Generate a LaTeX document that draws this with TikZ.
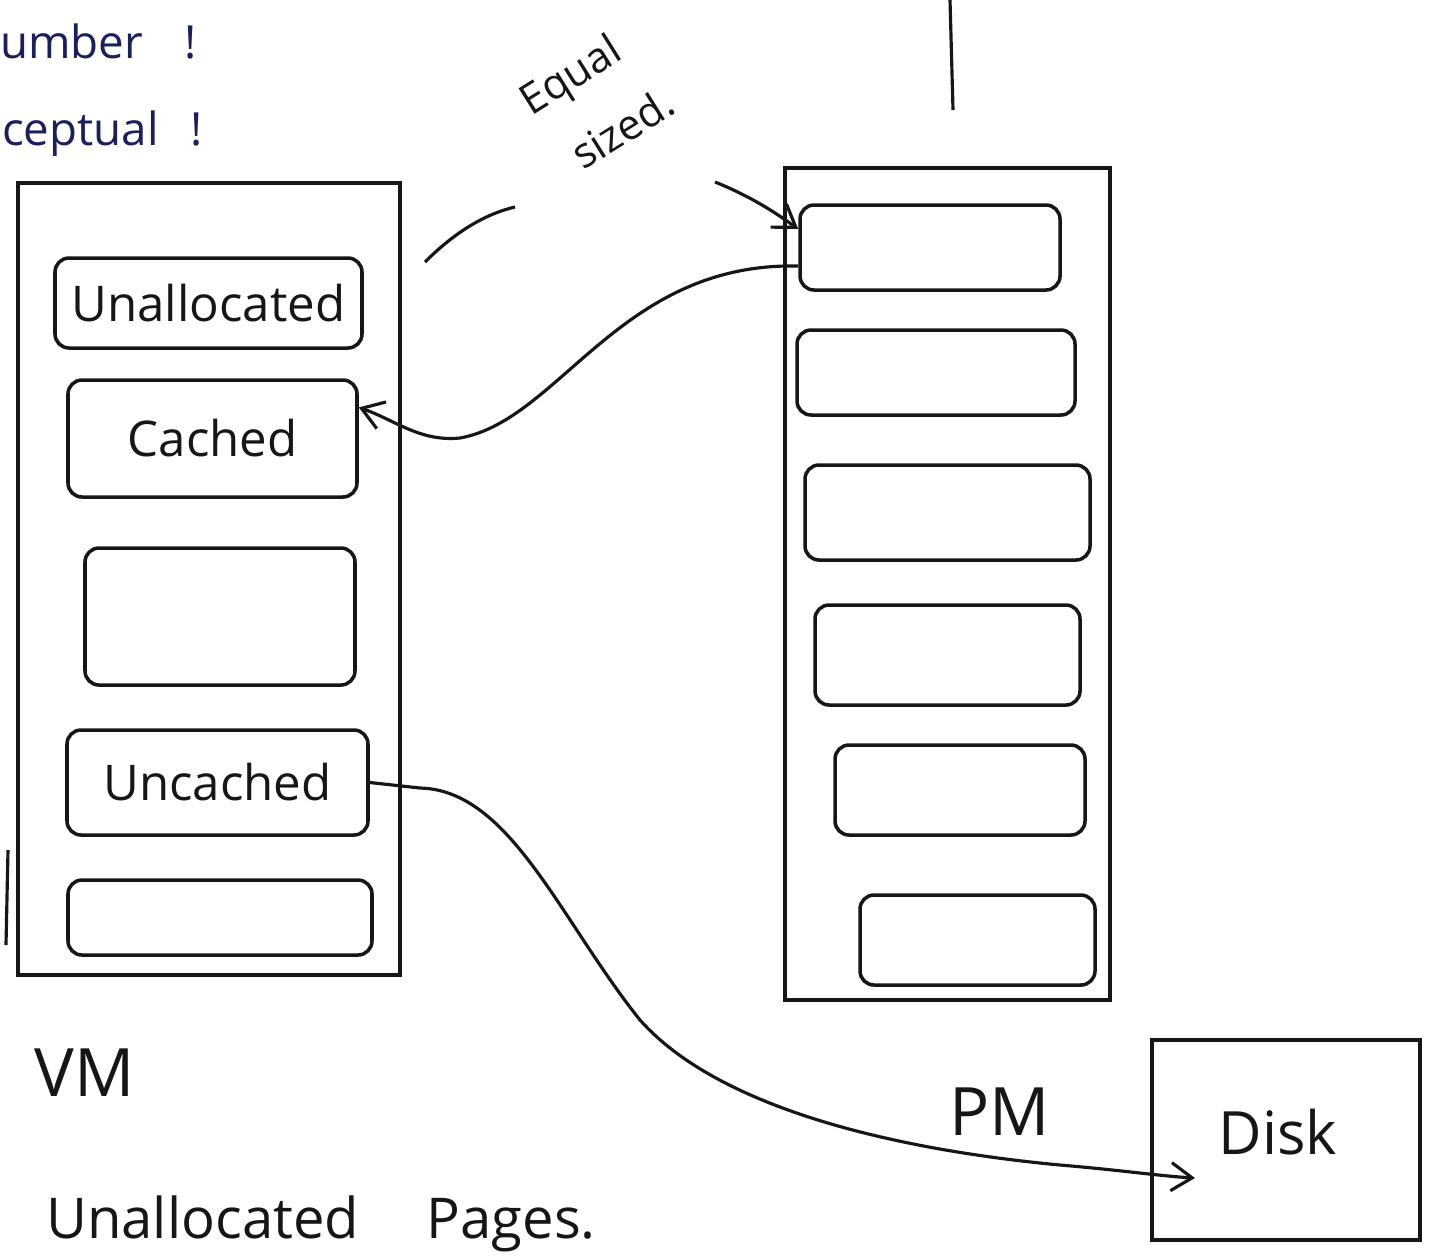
\documentclass[tikz,border=0pt]{standalone}
\usepackage{fontspec}
\setmainfont{Open Sans}
\usetikzlibrary{fit,arrows.meta}
\definecolor{ink}{HTML}{161616}
\definecolor{navy}{HTML}{1B1F5E}
\tikzset{
  frame/.style={draw=ink, line width=2pt, inner sep=0pt},
  page/.style={draw=ink, line width=2pt, rounded corners=8pt, inner sep=0pt},
  hand/.style={font=\fontsize{28}{32}\selectfont, text=ink},
  bighand/.style={font=\fontsize{38}{42}\selectfont, text=ink},
  note/.style={font=\fontsize{26}{30}\selectfont, text=navy},
  tilted/.style={font=\fontsize{24}{28}\selectfont, text=ink, rotate=32, inner sep=1pt},
  conn/.style={draw=ink, line width=1.8pt},
  tip/.style={-{Straight Barb[length=12pt,width=16pt,line width=1.8pt]}},
}
\begin{document}
\begin{tikzpicture}[x=0.02cm, y=-0.02cm]
\useasboundingbox (0,0) rectangle (1435,1259);
\clip (0,0) rectangle (1435,1259);
\fill[white] (0,0) rectangle (1435,1259);

% margin notes, top left
\node[note, anchor=base west] (n1) at (-6,58) {umber\hspace{0.9em}!};
\node[note, anchor=base west] (n2) at (-4,145) {ceptual\hspace{0.7em}!};

% stray stroke at the top
\coordinate (topa) at (950,0);
\coordinate (topb) at (953,110);
\draw[conn] (topa) -- (topb);

% note on page size
\node[tilted] (eq1) at (572,78) {Equal};
\node[tilted] (eq2) at (622,128) {sized.};

% small arc beside the note
\coordinate (arca) at (425,262);
\coordinate (arcb) at (515,207);
\draw[conn] (arca) .. controls (455,232) and (485,214) .. (arcb);

% virtual memory
\node[frame, fit={(18,183) (400,975)}] (vm) {};
\coordinate (vmla) at (8,850);
\coordinate (vmlb) at (6,945);
\draw[conn] (vmla) -- (vmlb);
\node[page, fit={(55,258) (362,348)}, label={[hand]center:Unallocated}] (v1) {};
\node[page, fit={(68,380) (357,497)}, label={[hand]center:Cached}] (v2) {};
\node[page, fit={(85,548) (355,685)}] (v3) {};
\node[page, fit={(67,730) (368,835)}, label={[hand]center:Uncached}] (v4) {};
\node[page, fit={(68,880) (372,955)}] (v5) {};
\node[bighand] (vml) at (85,1073) {VM};

% physical memory
\node[frame, fit={(785,168) (1110,1000)}] (pm) {};
\node[page, fit={(800,205) (1060,290)}] (p1) {};
\node[page, fit={(797,330) (1075,415)}] (p2) {};
\node[page, fit={(805,465) (1090,560)}] (p3) {};
\node[page, fit={(815,605) (1080,705)}] (p4) {};
\node[page, fit={(835,745) (1085,835)}] (p5) {};
\node[page, fit={(860,895) (1095,985)}] (p6) {};
\node[bighand] (pml) at (1000,1112) {PM};

% disk
\node[frame, fit={(1152,1040) (1420,1240)}] (disk) {};
\node[font=\fontsize{34}{38}\selectfont, text=ink] (dl) at (1278,1132) {Disk};
\coordinate (dtip) at (1195,1178);

% connectors
\coordinate (eqs) at (715,182);
\draw[conn, tip] (eqs) .. controls (760,200) and (788,222) .. (p1.172);
\draw[conn, tip] (p1.188) .. controls (620,262) and (560,420) .. (460,438)
  .. controls (420,442) and (395,420) .. (v2.12);
\draw[conn, tip] (v4.east) -- (420,788)
  .. controls (510,790) and (560,920) .. (640,1020)
  .. controls (720,1110) and (900,1150) .. (1060,1165)
  .. controls (1120,1170) and (1160,1176) .. (dtip);

% caption
\node[font=\fontsize{32}{36}\selectfont, text=ink, anchor=base west] (cap) at (40,1238) {Unallocated\hspace{1.2em}Pages.};
\end{tikzpicture}
\end{document}
